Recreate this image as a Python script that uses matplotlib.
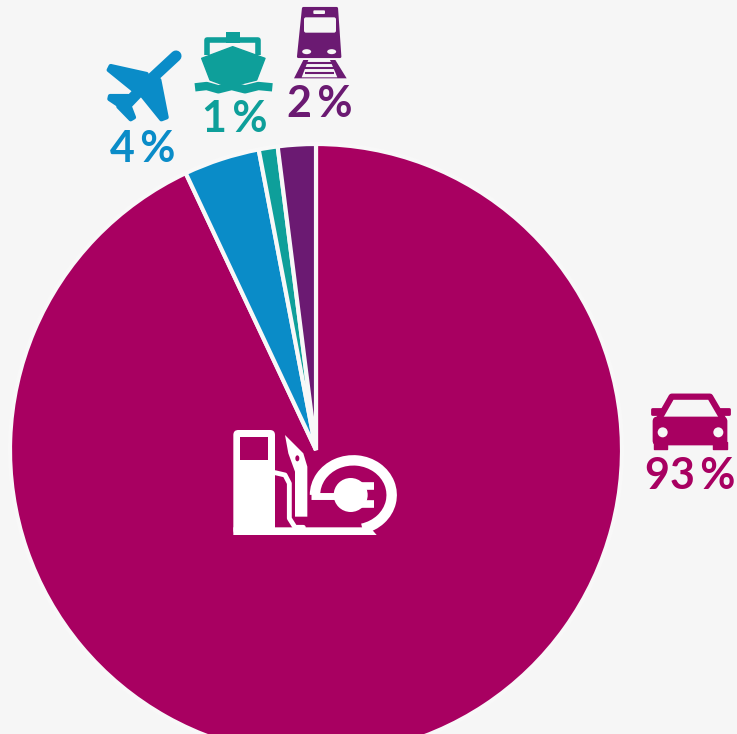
import matplotlib
matplotlib.use('Agg')
import matplotlib.pyplot as plt
from matplotlib.patches import Polygon, Circle, Ellipse, FancyBboxPatch, Arc, Rectangle

labels = ['93 %', '4 %', '1 %', '2 %']
shares = [93, 4, 1, 2]
colors = ['#a80061', '#0a8cc8', '#0e9f9a', '#6b1a72']
bg = '#f6f6f6'

plt.rcParams['font.family'] = ['Lato', 'DejaVu Sans']

fig = plt.figure(figsize=(7.37, 7.34), dpi=100, facecolor=bg)

# pie on its own axes, measured in image pixels (y up)
ax = fig.add_axes([0, 0, 1, 1])
ax.pie(shares, colors=colors, startangle=90, counterclock=False,
       center=(316, 734 - 450), radius=306,
       wedgeprops=dict(edgecolor='#f8f8f8', linewidth=3))
ax.set_xlim(0, 737)
ax.set_ylim(0, 734)
ax.set_aspect('auto')
ax.axis('off')

# icons and labels on top, y down like the image
ic = fig.add_axes([0, 0, 1, 1])
ic.set_xlim(0, 737)
ic.set_ylim(734, 0)
ic.axis('off')
ic.patch.set_alpha(0)


def zoom_pts(pts, ox, oy):
    return [(ox + x / 3, oy + y / 3) for x, y in pts]


def poly(pts, col, ox, oy, lw=0):
    ic.add_patch(Polygon(zoom_pts(pts, ox, oy), closed=True, fc=col, ec=col, lw=lw, joinstyle='round'))


def stroke(pts, col, lw, ox, oy, cap='round'):
    p = zoom_pts(pts, ox, oy)
    ic.plot([a for a, b in p], [b for a, b in p], color=col, lw=lw,
            solid_capstyle=cap, solid_joinstyle='round')


# plane
ox, oy = 90, 0
blue = colors[1]
stroke([(258, 168), (175, 245), (105, 318)], blue, 8, ox, oy)
poly([(170, 222), (62, 198), (56, 210), (130, 270)], blue, ox, oy, 3)
poly([(208, 240), (230, 352), (214, 358), (155, 285)], blue, ox, oy, 3)
poly([(115, 288), (60, 288), (58, 297), (100, 325)], blue, ox, oy, 3)
poly([(112, 300), (132, 352), (122, 358), (85, 320)], blue, ox, oy, 3)

# ship
teal = colors[2]
poly([(335, 175), (428, 140), (525, 175), (500, 240), (440, 255), (400, 255), (360, 240)], teal, ox, oy, 1)
stroke([(352, 165), (352, 120), (505, 120), (505, 165)], teal, 4, ox, oy, 'butt')
poly([(408, 95), (450, 95), (450, 128), (408, 128)], teal, ox, oy)
stroke([(315, 262), (350, 258), (385, 268), (425, 258), (465, 268), (505, 258), (547, 262)], teal, 6, ox, oy, 'butt')

# train
purple = colors[3]
poly([(640, 25), (740, 25), (750, 170), (625, 170)], purple, ox, oy, 2)
ic.add_patch(FancyBboxPatch((90 + 642 / 3, 52 / 3), 96 / 3, 46 / 3, boxstyle='round,pad=0,rounding_size=2', fc=bg, ec='none'))
ic.add_patch(FancyBboxPatch((90 + 670 / 3, 31 / 3), 35 / 3, 11 / 3, boxstyle='round,pad=0,rounding_size=1', fc=bg, ec='none'))
ic.add_patch(Ellipse((90 + 650 / 3, 155 / 3), 9, 5, fc=bg, ec='none'))
ic.add_patch(Ellipse((90 + 725 / 3, 155 / 3), 9, 5, fc=bg, ec='none'))
poly([(640, 180), (736, 180), (770, 235), (612, 235)], purple, ox, oy)
poly([(655, 180), (720, 180), (742, 232), (635, 232)], bg, ox, oy)
for y in (190, 205, 220):
    stroke([(645, y), (732, y)], purple, 1.5, ox, oy, 'butt')

# car
ox, oy = 630, 380
mag = colors[0]
ic.add_patch(FancyBboxPatch((630 + 70 / 3, 380 + 112 / 3), 220 / 3, 82 / 3, boxstyle='round,pad=0,rounding_size=4', fc=mag, ec=mag, lw=1))
stroke([(88, 115), (125, 50), (240, 50), (278, 115)], mag, 4.5, ox, oy)
poly([(65, 88), (95, 88), (95, 102), (65, 102)], mag, ox, oy, 2)
poly([(270, 88), (298, 88), (298, 102), (270, 102)], mag, ox, oy, 2)
poly([(72, 185), (112, 185), (112, 208), (72, 208)], mag, ox, oy, 1)
poly([(250, 185), (290, 185), (290, 208), (250, 208)], mag, ox, oy, 1)
ic.add_patch(Circle((630 + 98 / 3, 380 + 157 / 3), 5, fc=bg, ec='none'))
ic.add_patch(Circle((630 + 265 / 3, 380 + 157 / 3), 5, fc=bg, ec='none'))

# pump + plug in the middle
ox, oy = 220, 420
w = 'white'
ic.add_patch(FancyBboxPatch((220 + 40 / 3, 420 + 30 / 3), 125 / 3, 315 / 3, boxstyle='round,pad=0,rounding_size=5', fc=w, ec='none'))
ic.add_patch(Rectangle((220 + 60 / 3, 420 + 50 / 3), 85 / 3, 70 / 3, fc=mag, ec='none'))
poly([(40, 322), (450, 322), (470, 345), (40, 345)], w, ox, oy)
poly([(195, 45), (250, 100), (262, 140), (262, 290), (225, 290), (225, 155), (205, 100)], w, ox, oy)
stroke([(165, 158), (195, 165), (208, 190), (208, 295), (225, 322), (250, 322)], w, 3.5, ox, oy)
ic.add_patch(Ellipse((220 + 232 / 3, 420 + 115 / 3), 4, 6, fc=mag, ec='none'))
ic.add_patch(Arc((220 + 400 / 3, 420 + 225 / 3), 230 / 3, 208 / 3, theta1=-180, theta2=75, ec=w, lw=7.5))
stroke([(272, 228), (345, 228)], w, 5, ox, oy, 'butt')
ic.add_patch(Circle((220 + 392 / 3, 420 + 225 / 3), 17, fc=w, ec='none'))
stroke([(420, 198), (462, 198)], w, 5.5, ox, oy, 'butt')
stroke([(420, 252), (462, 252)], w, 5.5, ox, oy, 'butt')

# labels
label_pos = [(690, 476), (143, 149), (235, 119), (320, 104)]
for lab, col, (x, y) in zip(labels, colors, label_pos):
    ic.text(x, y, lab.replace(' ', '\u2009'), color=col, fontsize=31, fontweight='bold', ha='center', va='center')

fig.savefig('out.png', dpi=100, facecolor=bg)
